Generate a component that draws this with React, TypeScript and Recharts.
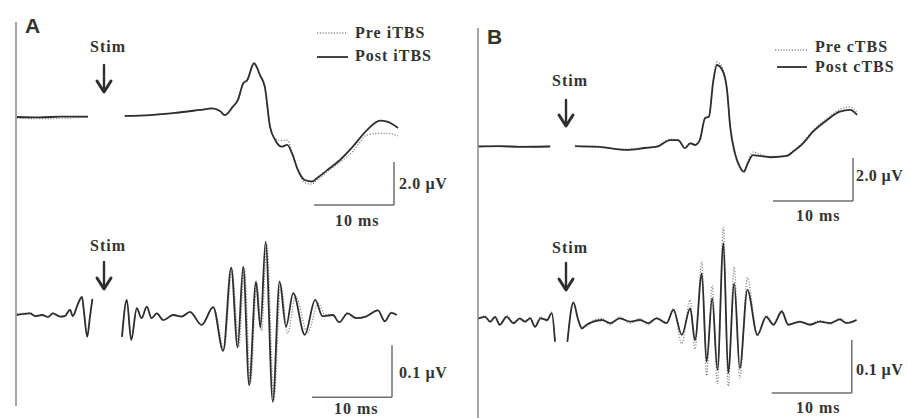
import React from 'react';
import { LineChart, Line, XAxis, YAxis, ReferenceLine } from 'recharts';

// time in ms (stim = 0), amplitude in µV. null = stimulus artifact gap

// A, top: evoked response, pre / post iTBS
const A_TOP_T = [-10.9, -8, -5.5, -2, -0.5, 2.6, 5.75, 8.9, 12, 13.5, 14.5, 15.1, 16.1, 16.75, 17.4, 17.9, 18.75, 19.5, 20.1, 20.75, 21.4, 22.2, 22.9, 23.5, 24.25, 25.1, 26, 26.6, 27.9, 29.5, 31.1, 32.9, 34.5, 35.4, 36.75];
const A_TOP_POST = [0, -0.02, 0.02, 0.02, null, 0.05, 0.09, 0.19, 0.33, 0.4, 0.28, 0.09, 0.48, 0.79, 1.57, 1.72, 2.5, 1.95, 1.41, -0.45, -1.07, -1.38, -1.3, -1.69, -2.47, -2.93, -3.0, -2.85, -2.47, -2.0, -1.38, -0.6, -0.17, -0.22, -0.51];
const A_TOP_PRE = [-0.05, -0.08, -0.06, 0, null, 0.03, 0.08, 0.18, 0.32, 0.38, 0.26, 0.1, 0.45, 0.9, 1.5, 1.68, 2.45, 1.9, 1.35, -0.42, -1.0, -1.1, -1.07, -1.6, -2.5, -3.05, -3.12, -2.95, -2.55, -2.1, -1.6, -0.84, -0.76, -0.76, -0.88];

// A, bottom: high-frequency oscillations
const A_BOT_T = [-10.9, -9.25, -8.6, -7.75, -7, -6.4, -5.5, -4.9, -4.25, -3.9, -3.25, -2.75, -2.5, -2.1, -1.75, -1.45, 0.5, 2.25, 2.85, 3.4, 4.1, 4.7, 5.35, 5.95, 6.6, 7.4, 8.65, 9.7, 10.75, 12.2, 13.65, 14.9, 15.9, 16.7, 17.4, 18.15, 19, 19.55, 20.2, 21.1, 21.95, 22.75, 23.65, 25.1, 26.4, 27.3, 28.6, 29.4, 30.45, 31.5, 32.75, 34.25, 35.1, 35.9, 36.6];
const A_BOT_POST = [0, 0.003, -0.002, 0, -0.004, 0.003, -0.003, -0.002, 0.01, -0.002, 0.022, 0.035, 0.006, -0.042, -0.003, 0.031, null, -0.042, 0.029, -0.048, 0.013, -0.006, 0.016, -0.006, 0.003, -0.01, 0, -0.003, 0.006, -0.019, 0.015, -0.069, 0.091, -0.0625, 0.093, -0.135, 0.064, -0.024, 0.141, -0.167, 0.064, -0.0225, 0.042, -0.038, 0.029, -0.002, 0, -0.014, 0.003, -0.006, -0.003, 0.009, -0.012, 0.004, 0];
const A_BOT_PRE_T = [-10.9, -9.25, -8.6, -7.75, -7, -6.4, -5.5, -4.9, -4.25, -3.9, -3.25, -2.75, -2.5, -2.1, -1.75, -1.45, 0.5, 2.25, 2.85, 3.4, 4.1, 4.7, 5.35, 5.95, 6.6, 7.4, 8.65, 9.7, 10.75, 12.2, 13.75, 15.0, 16.0, 16.85, 17.55, 18.3, 19.1, 19.7, 20.35, 21.25, 22.1, 22.95, 23.95, 25.45, 26.8, 27.6, 28.6, 29.4, 30.45, 31.5, 32.75, 34.25, 35.1, 35.9, 36.6];
const A_BOT_PRE = [0.002, 0.004, -0.003, 0.001, -0.003, 0.004, -0.002, -0.003, 0.011, -0.001, 0.02, 0.034, 0.004, -0.04, -0.002, 0.03, null, -0.04, 0.027, -0.046, 0.012, -0.005, 0.014, -0.007, 0.004, -0.009, 0.001, -0.002, 0.005, -0.019, 0.014, -0.066, 0.088, -0.06, 0.09, -0.132, 0.06, -0.03, 0.136, -0.162, 0.06, -0.035, 0.036, -0.034, 0.022, 0.001, 0, -0.013, 0.004, -0.005, -0.002, 0.01, -0.011, 0.005, 0.001];

// B, top: evoked response, pre / post cTBS
const B_TOP_T = [-11.1, -8.4, -5.9, -2.1, -0.5, 1, 4.1, 7.5, 9.75, 11.25, 12.9, 13.9, 14.75, 15.4, 16, 16.6, 17.25, 17.75, 18.25, 18.75, 19.5, 20, 20.4, 21, 21.6, 22.1, 22.6, 23.25, 24.1, 25.4, 27.5, 28.25, 29.5, 30.75, 32.5, 34.1, 35.4, 36.25];
const B_TOP_POST = [0, 0.02, -0.02, 0, null, 0.02, -0.02, -0.16, -0.07, -0.01, 0.3, 0.3, -0.08, 0.15, 0.07, 0.3, 1.31, 1.39, 2.94, 3.79, 3.48, 2.63, 0.92, -0.32, -0.94, -1.17, -0.78, -0.4, -0.44, -0.5, -0.44, -0.24, 0.15, 0.69, 1.23, 1.62, 1.7, 1.47];
const B_TOP_PRE = [0.02, 0, 0.01, 0.02, null, 0, -0.05, -0.12, -0.04, 0.02, 0.34, 0.28, -0.05, 0.18, 0.1, 0.33, 1.35, 1.45, 3.05, 3.93, 3.6, 2.7, 0.85, -0.4, -1.0, -1.23, -0.7, -0.26, -0.36, -0.46, -0.4, -0.2, 0.2, 0.75, 1.3, 1.72, 1.84, 1.6];

// B, bottom: high-frequency oscillations
const B_BOT_T = [-11.1, -10.25, -9.6, -9, -8.4, -7.55, -6.7, -5.9, -5.25, -4.6, -4, -3.3, -2.5, -1.9, -1.5, -0.7, 0.05, 0.8, 1.4, 1.85, 2.45, 3.3, 4.35, 5.4, 6.6, 7.9, 9.1, 10.15, 11.2, 12.45, 13.3, 14.35, 15.4, 16, 16.85, 17.45, 18.15, 18.8, 19.55, 20.15, 20.9, 21.6, 22.55, 23.8, 24.9, 25.8, 26.85, 27.65, 29.1, 30.4, 31.6, 32.9, 34.1, 34.95, 36.2];
const B_BOT_POST = [0.003, 0.006, -0.003, 0.006, -0.009, 0.006, -0.006, 0.003, -0.003, 0.003, -0.013, 0.003, 0, 0.013, -0.041, null, -0.041, 0.033, 0, -0.016, -0.009, -0.003, 0, -0.006, 0.003, -0.003, 0, -0.006, 0.003, -0.006, 0.019, -0.028, 0.022, -0.038, 0.088, -0.079, 0.041, -0.094, 0.145, -0.1, 0.069, -0.091, 0.057, -0.028, 0.006, -0.009, 0.016, -0.009, -0.003, -0.009, -0.003, -0.006, 0.001, -0.006, 0];
const B_BOT_PRE = [0.001, 0.008, -0.005, 0.004, -0.007, 0.008, -0.004, 0.001, -0.005, 0.005, -0.01, 0.006, -0.002, 0.015, -0.041, null, -0.041, 0.03, 0.002, -0.012, -0.012, 0, 0.003, -0.009, 0.006, -0.006, 0.003, -0.009, 0.005, -0.004, 0.022, -0.045, 0.038, -0.055, 0.11, -0.105, 0.065, -0.12, 0.175, -0.125, 0.1, -0.11, 0.08, -0.03, 0.008, -0.006, 0.018, -0.007, -0.005, -0.007, -0.001, -0.008, 0.003, -0.004, 0.001];

const toRows = (t: number[], v: (number | null)[]) => t.map((x, i) => ({ t: x, v: v[i] }));

const SERIF = '"Liberation Serif", "Times New Roman", serif';
const SANS = '"Liberation Sans", Arial, sans-serif';
const INK = '#2e2e2e';
const BAR = '#6f6f6f';

type TraceProps = {
  left: number;
  top: number;
  width: number;
  height: number;
  tDomain: [number, number];
  vDomain: [number, number];
  pre: { t: number; v: number | null }[];
  post: { t: number; v: number | null }[];
  bar: { t0: number; t1: number; v0: number; v1: number };
};

function Trace({ left, top, width, height, tDomain, vDomain, pre, post, bar }: TraceProps) {
  return (
    <div style={{ position: 'absolute', left, top }}>
      <LineChart width={width} height={height} margin={{ top: 0, right: 0, bottom: 0, left: 0 }}>
        <XAxis type="number" dataKey="t" domain={tDomain} allowDataOverflow hide />
        <YAxis type="number" domain={vDomain} allowDataOverflow hide />
        <ReferenceLine segment={[{ x: bar.t1, y: bar.v0 }, { x: bar.t1, y: bar.v1 }]} stroke={BAR} strokeWidth={1.5} ifOverflow="visible" />
        <ReferenceLine segment={[{ x: bar.t0, y: bar.v1 }, { x: bar.t1, y: bar.v1 }]} stroke={BAR} strokeWidth={1.5} ifOverflow="visible" />
        <Line data={pre} dataKey="v" type="monotone" stroke="#8c8c8c" strokeWidth={1.3} strokeDasharray="1.2 1.6" dot={false} activeDot={false} isAnimationActive={false} />
        <Line data={post} dataKey="v" type="monotone" stroke={INK} strokeWidth={1.8} dot={false} activeDot={false} isAnimationActive={false} />
      </LineChart>
    </div>
  );
}

function Txt({ x, y, children, size = 16, family = SERIF, spacing = 1 }: { x: number; y: number; children: React.ReactNode; size?: number; family?: string; spacing?: number }) {
  return (
    <div style={{ position: 'absolute', left: x, top: y, fontFamily: family, fontWeight: 700, fontSize: size, lineHeight: 1, letterSpacing: spacing, color: '#333', whiteSpace: 'nowrap' }}>
      {children}
    </div>
  );
}

function Arrow({ x, y0, y1 }: { x: number; y0: number; y1: number }) {
  return (
    <g stroke={INK} fill="none" strokeLinecap="round">
      <line x1={x} y1={y0} x2={x} y2={y1 - 2} strokeWidth={2.4} />
      <polyline points={`${x - 7},${y1 - 11} ${x},${y1} ${x + 7},${y1 - 11}`} strokeWidth={3} strokeLinejoin="round" />
    </g>
  );
}

export default function App() {
  return (
    <div style={{ position: 'absolute', left: 0, top: 0, width: 908, height: 418, background: '#fff', overflow: 'hidden' }}>
      <Trace left={0} top={0} width={460} height={234} tDomain={[-13, 44.5]} vDomain={[-5.44, 5.44]}
        pre={toRows(A_TOP_T, A_TOP_PRE)} post={toRows(A_TOP_T, A_TOP_POST)}
        bar={{ t0: 26.25, t1: 36.25, v0: -2.09, v1: -4.09 }} />
      <Trace left={0} top={220} width={460} height={190} tDomain={[-13, 44.5]} vDomain={[-0.1827, 0.1827]}
        pre={toRows(A_BOT_PRE_T, A_BOT_PRE)} post={toRows(A_BOT_T, A_BOT_POST)}
        bar={{ t0: 26, t1: 36, v0: -0.058, v1: -0.158 }} />
      <Trace left={460} top={0} width={448} height={293} tDomain={[-13.375, 42.625]} vDomain={[-6.814, 6.814]}
        pre={toRows(B_TOP_T, B_TOP_PRE)} post={toRows(B_TOP_T, B_TOP_POST)}
        bar={{ t0: 25.75, t1: 35.75, v0: -0.535, v1: -2.535 }} />
      <Trace left={460} top={220} width={448} height={200} tDomain={[-13.375, 42.625]} vDomain={[-0.1887, 0.1887]}
        pre={toRows(B_BOT_T, B_BOT_PRE)} post={toRows(B_BOT_T, B_BOT_POST)}
        bar={{ t0: 25.6, t1: 35.6, v0: -0.0377, v1: -0.1377 }} />

      <svg width={908} height={418} style={{ position: 'absolute', left: 0, top: 0, pointerEvents: 'none' }}>
        <line x1={16} y1={22} x2={16} y2={406} stroke="#8a8a8a" strokeWidth={1.5} />
        <line x1={478} y1={28} x2={478} y2={418} stroke="#8a8a8a" strokeWidth={1.5} />
        <line x1={317} y1={33} x2={348} y2={33} stroke="#8c8c8c" strokeWidth={1.3} strokeDasharray="1.2 1.6" />
        <line x1={317} y1={57} x2={348} y2={57} stroke={INK} strokeWidth={1.8} />
        <line x1={775} y1={50} x2={807} y2={50} stroke="#8c8c8c" strokeWidth={1.3} strokeDasharray="1.2 1.6" />
        <line x1={777} y1={67} x2={807} y2={67} stroke={INK} strokeWidth={1.8} />
        <Arrow x={104} y0={65} y1={92} />
        <Arrow x={104} y0={262} y1={289} />
        <Arrow x={566} y0={100} y1={126} />
        <Arrow x={566} y0={263} y1={290} />
      </svg>

      <Txt x={25} y={15} size={21} family={SANS} spacing={0}>A</Txt>
      <Txt x={90} y={39}>Stim</Txt>
      <Txt x={90} y={238}>Stim</Txt>
      <Txt x={355} y={25}>Pre iTBS</Txt>
      <Txt x={355} y={48}>Post iTBS</Txt>
      <Txt x={399} y={176} spacing={0.6}>2.0 µV</Txt>
      <Txt x={335} y={213}>10 ms</Txt>
      <Txt x={399} y={365} spacing={0.6}>0.1 µV</Txt>
      <Txt x={334} y={401}>10 ms</Txt>

      <Txt x={487} y={26} size={21} family={SANS} spacing={0}>B</Txt>
      <Txt x={552} y={73}>Stim</Txt>
      <Txt x={552} y={240}>Stim</Txt>
      <Txt x={815} y={39}>Pre cTBS</Txt>
      <Txt x={815} y={59}>Post cTBS</Txt>
      <Txt x={856} y={168} spacing={0.4}>2.0 µV</Txt>
      <Txt x={796} y={208}>10 ms</Txt>
      <Txt x={856} y={362} spacing={0.4}>0.1 µV</Txt>
      <Txt x={796} y={400}>10 ms</Txt>
    </div>
  );
}
